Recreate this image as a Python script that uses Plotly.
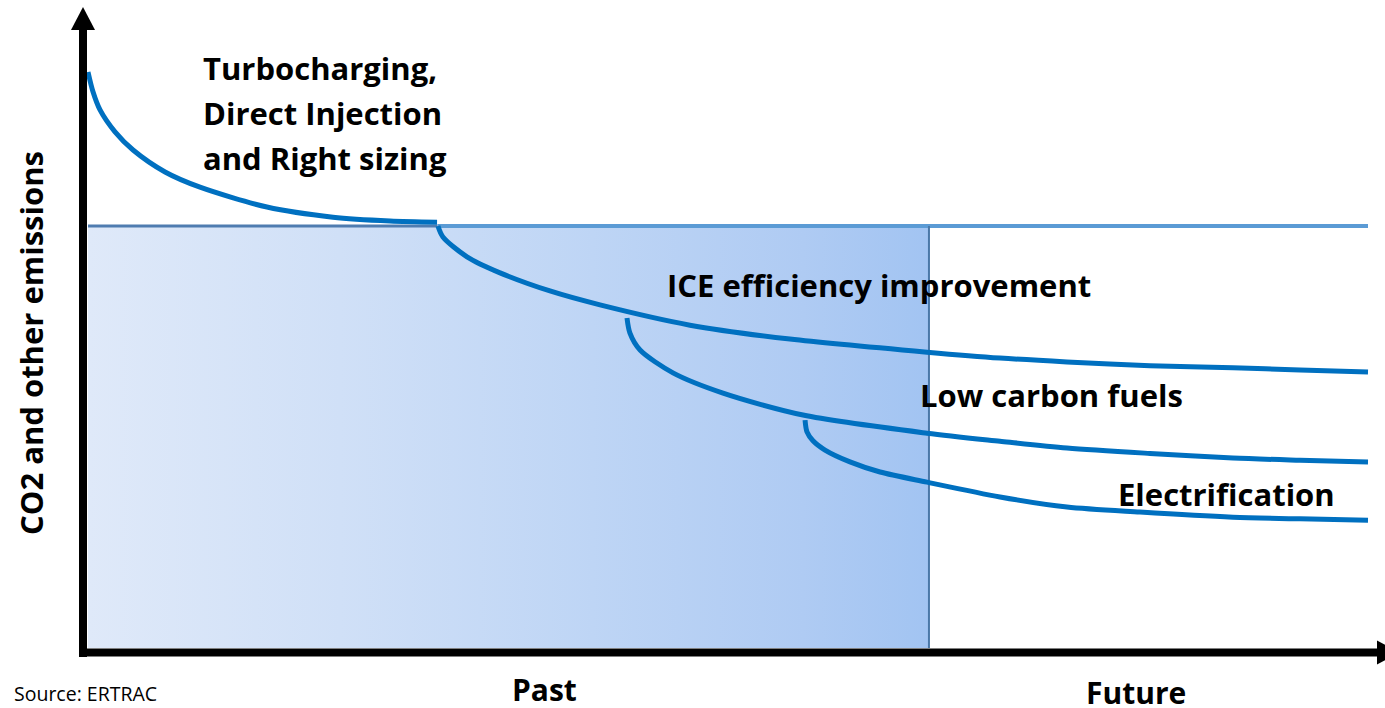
import plotly.graph_objects as go

# ---------------- data (time index 0..100, emission index: 100 = today's level) ----------------
turbo_t = [0.0, 0.39, 0.94, 2.11, 3.52, 6.02, 8.75, 13.98, 19.14, 23.6, 27.27]
turbo_e = [136.5, 131.8, 127.5, 122.3, 118.0, 112.8, 109.2, 104.5, 102.1, 101.2, 100.9]

ice_t = [27.34, 27.73, 29.61, 32.19, 36.09, 40.0, 47.03, 54.84, 65.55, 71.25, 76.48, 82.97, 89.45, 94.69, 100.0]
ice_e = [100.0, 97.4, 92.7, 88.9, 84.6, 81.3, 76.5, 73.2, 70.1, 68.7, 67.8, 66.9, 66.4, 65.9, 65.4]

lcf_t = [42.11, 42.34, 43.13, 45.70, 49.61, 55.86, 65.55, 71.25, 76.48, 82.97, 89.45, 94.69, 100.0]
lcf_e = [78.2, 74.6, 70.6, 65.2, 60.4, 55.2, 50.9, 49.0, 47.4, 46.1, 45.0, 44.5, 44.1]

ele_t = [56.02, 56.17, 56.64, 57.58, 59.53, 61.88, 65.55, 71.25, 76.48, 82.19, 89.45, 94.69, 100.0]
ele_e = [54.0, 51.2, 49.1, 46.9, 44.1, 41.7, 39.3, 35.8, 33.4, 32.2, 31.0, 30.6, 30.3]

baseline_level = 100.0
past_end_t = 65.7
ice_start_t = 27.3
end_t = 100.0

labels = {
    "turbo": ["Turbocharging,", "Direct Injection", "and Right sizing"],
    "ice": "ICE efficiency improvement",
    "lcf": "Low carbon fuels",
    "ele": "Electrification",
    "ylab": "CO2 and other emissions",
    "past": "Past",
    "future": "Future",
    "source": "Source: ERTRAC",
}

# ---------------- layout geometry ----------------
W, H = 1385, 708
X0_PX, PX_PER_T = 88, 12.8      # pixel x of t=0, pixels per time unit
Y0_PX, PX_PER_E = 648, 4.22     # pixel y of e=0, pixels per emission unit
x_range = [-X0_PX / PX_PER_T, (W - X0_PX) / PX_PER_T]
y_range = [(Y0_PX - H) / PX_PER_E, Y0_PX / PX_PER_E]

def t_of(px):
    return (px - X0_PX) / PX_PER_T

def e_of(py):
    return (Y0_PX - py) / PX_PER_E

BLUE = "#0070c0"
FONT = "Open Sans"

fig = go.Figure()

# shaded "past" area with horizontal gradient
fig.add_trace(go.Scatter(
    x=[0, past_end_t, past_end_t, 0, 0],
    y=[0, 0, baseline_level, baseline_level, 0],
    mode="lines", line=dict(width=0), fill="toself",
    fillgradient=dict(type="horizontal",
                      colorscale=[[0, "#dfe9f9"], [0.3, "#d0e0f7"], [0.6, "#bed5f5"],
                                  [0.85, "#afcbf3"], [1, "#a2c4f2"]]),
    hoverinfo="skip", showlegend=False))

# rect borders / baseline
fig.add_trace(go.Scatter(x=[0, ice_start_t], y=[baseline_level, baseline_level], mode="lines",
                         line=dict(color="#4f7cb0", width=3), hoverinfo="skip", showlegend=False))
fig.add_trace(go.Scatter(x=[ice_start_t, end_t], y=[baseline_level, baseline_level], mode="lines",
                         line=dict(color="#5b9bd5", width=4), hoverinfo="skip", showlegend=False))
fig.add_trace(go.Scatter(x=[past_end_t, past_end_t], y=[0, baseline_level], mode="lines",
                         line=dict(color="#4a78a8", width=2), hoverinfo="skip", showlegend=False))

# curves
for tx, ey in [(turbo_t, turbo_e), (ice_t, ice_e), (lcf_t, lcf_e), (ele_t, ele_e)]:
    fig.add_trace(go.Scatter(x=tx, y=ey, mode="lines",
                             line=dict(color=BLUE, width=5, shape="spline", smoothing=0.8),
                             hoverinfo="skip", showlegend=False))

shapes = []
# axes lines
shapes.append(dict(type="line", xref="x", yref="y", x0=t_of(83), x1=t_of(83),
                   y0=e_of(657), y1=e_of(29), line=dict(color="black", width=8)))
shapes.append(dict(type="line", xref="x", yref="y", x0=t_of(79), x1=t_of(1379),
                   y0=e_of(652.5), y1=e_of(652.5), line=dict(color="black", width=8)))
# arrow heads
shapes.append(dict(type="path", xref="x", yref="y", xsizemode="pixel", ysizemode="pixel",
                   xanchor=t_of(83), yanchor=e_of(30),
                   path="M -12 0 L 12 0 L 0 23 Z", fillcolor="black", line=dict(width=0)))
shapes.append(dict(type="path", xref="x", yref="y", xsizemode="pixel", ysizemode="pixel",
                   xanchor=t_of(1377), yanchor=e_of(652.5),
                   path="M 0 -12 L 0 12 L 23 0 Z", fillcolor="black", line=dict(width=0)))

ann = []
def txt(text, px, py, size=31, xanchor="left", weight="bold", angle=0):
    ann.append(dict(text=text, x=px / W, y=1 - py / H, xref="paper", yref="paper",
                    xanchor=xanchor, yanchor="middle", showarrow=False, textangle=angle,
                    font=dict(family=FONT, size=size, color="black", weight=weight)))

for i, line in enumerate(labels["turbo"]):
    txt(line, 201, 68 + 45 * i)
txt(labels["ice"], 665, 285)
txt(labels["lcf"], 918, 395)
txt(labels["ele"], 1116, 494)
txt(labels["ylab"], 31, 343, angle=-90, xanchor="center")
txt(labels["past"], 544, 689, size=30, xanchor="center")
txt(labels["future"], 1136, 692, size=30, xanchor="center")
txt(labels["source"], 12, 693, size=19.5, weight="normal")

fig.update_layout(
    width=W, height=H, margin=dict(l=0, r=0, t=0, b=0, pad=0),
    paper_bgcolor="white", plot_bgcolor="white",
    xaxis=dict(range=x_range, visible=False, fixedrange=True),
    yaxis=dict(range=y_range, visible=False, fixedrange=True),
    shapes=shapes, annotations=ann, showlegend=False,
)

fig.write_html("out.html", config={"displayModeBar": False},
               post_script="document.body.style.margin='0px';document.body.style.overflow='hidden';")
